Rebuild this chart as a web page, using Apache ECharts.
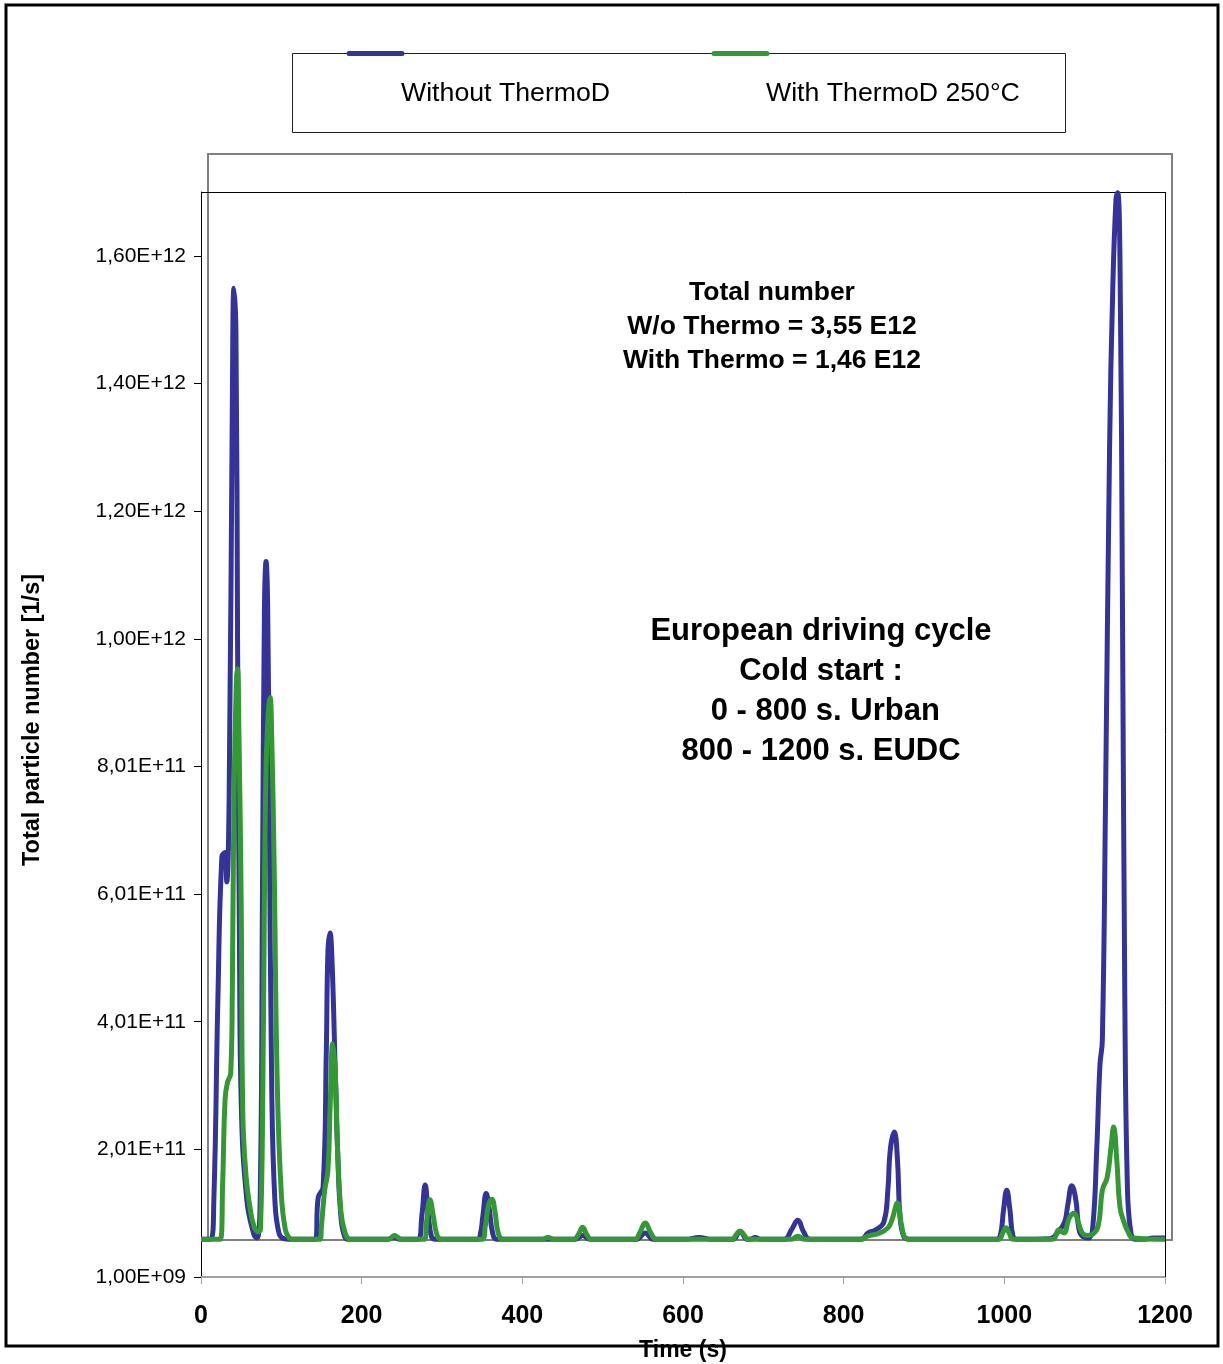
<!DOCTYPE html>
<html>
<head>
<meta charset="utf-8">
<script src="https://cdn.jsdelivr.net/npm/echarts@6/dist/echarts.min.js"></script>
<style>
html,body{margin:0;padding:0;background:#fff;}
#chart{width:1223px;height:1364px;}
</style>
</head>
<body>
<div id="chart"></div>
<script>
// ---- Data (time in s, particle number in 1/s) ----
const seriesNames = ['Without ThermoD', 'With ThermoD 250°C'];

const withoutTime = [0, 12, 16, 21, 26, 30, 32, 35, 39, 41, 43.5, 45.5, 48, 50, 57, 66, 70,
  74, 76.5, 79, 81, 83, 85, 88, 92, 97, 103, 110, 142, 146, 152, 156, 158, 160.6, 163, 167, 170.5, 174, 179, 185,
  232, 240, 248, 270, 275, 279, 283, 287, 292, 344, 348, 351, 355, 359, 363, 368,
  466, 475, 484, 542, 553, 563, 604, 620, 636, 662, 671, 680, 684, 690, 696,
  726, 735, 743, 750, 758, 822, 830, 840, 850, 855, 858, 863, 867, 870, 875, 882,
  990, 995, 999, 1003, 1007, 1011, 1017, 1057, 1067, 1075, 1079, 1084, 1089, 1093, 1098, 1105, 1110,
  1115, 1119, 1122, 1126, 1131, 1135, 1139, 1141, 1144, 1147, 1150, 1153, 1157, 1163, 1175, 1185, 1200];
const withoutValue = [6.0e10, 6.0e10, 1.22e11, 4.35e11, 6.60e11, 6.66e11, 6.20e11, 7.50e11, 1.37e12, 1.55e12, 1.48e12, 1.00e12, 5.00e11, 2.78e11, 1.22e11, 6.7e10, 6.2e10,
  1.50e11, 6.00e11, 1.05e12, 1.122e12, 1.05e12, 7.50e11, 3.00e11, 1.20e11, 7.0e10, 6.1e10, 6.0e10, 6.0e10, 1.26e11, 1.42e11, 3.56e11, 5.10e11, 5.40e11, 5.00e11, 3.30e11, 1.84e11, 9.8e10, 6.4e10, 6.0e10,
  6.0e10, 6.3e10, 6.0e10, 6.0e10, 9.8e10, 1.45e11, 9.8e10, 6.4e10, 6.0e10, 6.0e10, 7.0e10, 9.8e10, 1.32e11, 1.06e11, 7.0e10, 6.0e10,
  6.0e10, 6.6e10, 6.0e10, 6.0e10, 7.0e10, 6.0e10, 6.0e10, 6.3e10, 6.0e10, 6.0e10, 7.2e10, 6.0e10, 6.0e10, 6.3e10, 6.0e10,
  6.0e10, 7.5e10, 9.0e10, 7.2e10, 6.0e10, 6.0e10, 7.0e10, 7.5e10, 8.7e10, 1.37e11, 2.00e11, 2.28e11, 1.84e11, 9.8e10, 6.4e10, 6.0e10,
  6.0e10, 6.6e10, 1.06e11, 1.37e11, 1.06e11, 6.4e10, 6.0e10, 6.1e10, 7.2e10, 8.7e10, 1.14e11, 1.44e11, 1.22e11, 7.5e10, 6.4e10, 6.2e10, 7.8e10,
  2.00e11, 3.33e11, 3.72e11, 7.50e11, 1.30e12, 1.55e12, 1.69e12, 1.70e12, 1.59e12, 1.06e12, 4.35e11, 1.53e11, 7.5e10, 6.0e10, 6.0e10, 6.2e10, 6.2e10];

const withTime = [0, 24, 27, 30, 33, 37, 39, 41, 44, 45.5, 47, 50, 52, 56, 61, 66, 71, 74,
  77, 79, 81, 84, 86, 88, 91, 95, 100, 105, 110, 115, 148, 150, 154, 158, 161, 164, 167, 170, 174, 179, 186,
  233, 238, 241, 244, 250, 278, 281, 285, 289, 294, 300, 350, 354, 358, 362, 366, 370, 376,
  424, 432, 440, 464, 470, 475, 480, 486, 540, 546, 553, 560, 567, 661, 666, 671, 676, 681, 735, 743, 751,
  820, 830, 845, 855, 860, 867, 872, 877, 885, 993, 998, 1002, 1006, 1011,
  1060, 1068, 1074, 1081, 1087, 1092, 1097, 1103, 1110, 1117, 1122, 1128, 1133, 1136, 1140, 1144, 1149, 1154, 1160, 1200];
const withValue = [6.0e10, 6.0e10, 1.50e11, 2.80e11, 3.06e11, 3.20e11, 4.50e11, 7.50e11, 9.36e11, 9.54e11, 8.70e11, 5.90e11, 2.60e11, 1.60e11, 1.10e11, 8.0e10, 7.2e10, 7.5e10,
  3.00e11, 6.00e11, 8.00e11, 8.90e11, 9.09e11, 8.50e11, 6.50e11, 3.00e11, 1.30e11, 7.5e10, 6.2e10, 6.0e10, 6.0e10, 8.2e10, 1.37e11, 1.68e11, 2.78e11, 3.67e11, 3.25e11, 2.00e11, 1.06e11, 7.2e10, 6.0e10,
  6.0e10, 6.4e10, 6.6e10, 6.4e10, 6.0e10, 6.0e10, 9.0e10, 1.22e11, 9.8e10, 6.6e10, 6.0e10, 6.0e10, 8.2e10, 1.14e11, 1.23e11, 1.03e11, 7.0e10, 6.0e10,
  6.0e10, 6.3e10, 6.0e10, 6.0e10, 6.8e10, 7.9e10, 6.8e10, 6.0e10, 6.0e10, 7.0e10, 8.55e10, 7.0e10, 6.0e10, 6.0e10, 6.7e10, 7.3e10, 6.7e10, 6.0e10, 6.0e10, 6.5e10, 6.0e10,
  6.0e10, 6.5e10, 7.0e10, 7.8e10, 9.0e10, 1.17e11, 8.2e10, 6.2e10, 6.0e10, 6.0e10, 7.0e10, 7.8e10, 7.0e10, 6.0e10,
  6.0e10, 7.5e10, 7.0e10, 9.4e10, 1.01e11, 8.7e10, 7.0e10, 6.6e10, 6.8e10, 8.2e10, 1.37e11, 1.57e11, 2.07e11, 2.36e11, 1.84e11, 1.10e11, 8.7e10, 7.2e10, 6.2e10, 6.0e10];

const xTicks = [0, 200, 400, 600, 800, 1000, 1200];
const yTicks = [1.0e9, 2.01e11, 4.01e11, 6.01e11, 8.01e11, 1.001e12, 1.201e12, 1.401e12, 1.601e12];

const xTitle = 'Time (s)';
const yTitle = 'Total particle number [1/s]';
const annotation1 = ['Total number', 'W/o Thermo = 3,55 E12', 'With Thermo = 1,46 E12'];
const annotation2 = ['European driving cycle', 'Cold start :', ' 0 - 800 s. Urban', '800 - 1200 s. EUDC'];

const colors = ['#333399', '#339933'];

function pairs(t, v) { return t.map((x, i) => [x, v[i]]); }
function fmtExp(v) {
  const s = Number(v).toExponential(2);
  const parts = s.split('e');
  const sign = parts[1][0];
  const d = parts[1].slice(1).padStart(2, '0');
  return parts[0].replace('.', ',') + 'E' + sign + d;
}

const chart = echarts.init(document.getElementById('chart'), null, { renderer: 'canvas' });
const sans = "'Liberation Sans', Arial, sans-serif";

const option = {
  backgroundColor: '#ffffff',
  animation: false,
  grid: { left: 201, top: 192, width: 964, height: 1085, containLabel: false, outerBoundsMode: 'none' },
  xAxis: {
    type: 'value', min: xTicks[0], max: xTicks[xTicks.length - 1], interval: xTicks[1] - xTicks[0],
    axisLine: { lineStyle: { color: '#a0a0a0', width: 2 } },
    axisTick: { show: true, inside: false, length: 7, lineStyle: { color: '#a0a0a0', width: 1 } },
    splitLine: { show: false },
    axisLabel: { margin: 27, color: '#000', fontFamily: sans, fontWeight: 'bold', fontSize: 25,
      formatter: function (v) { return String(v); } },
    name: xTitle, nameLocation: 'middle', nameGap: 62,
    nameTextStyle: { color: '#000', fontFamily: sans, fontWeight: 'bold', fontSize: 23 }
  },
  yAxis: {
    type: 'value', min: yTicks[0], max: 1.701e12, interval: yTicks[1] - yTicks[0],
    axisLine: { show: true, lineStyle: { color: '#000', width: 1 } },
    axisTick: { show: true, inside: false, length: 7, lineStyle: { color: '#000', width: 1 } },
    splitLine: { show: false },
    axisLabel: { showMaxLabel: false, margin: 15, color: '#000', fontFamily: sans, fontSize: 21,
      formatter: function (v) { return fmtExp(v); } }
  },
  legend: { show: false, data: seriesNames },
  series: [
    { name: seriesNames[0], type: 'line', data: pairs(withoutTime, withoutValue), showSymbol: false,
      smooth: 0.45, lineStyle: { color: colors[0], width: 5 }, itemStyle: { color: colors[0] }, z: 3 },
    { name: seriesNames[1], type: 'line', data: pairs(withTime, withValue), showSymbol: false,
      smooth: 0.45, lineStyle: { color: colors[1], width: 5 }, itemStyle: { color: colors[1] }, z: 4 }
  ],
  graphic: [
    // outer border
    { type: 'rect', shape: { x: 6, y: 5, width: 1212, height: 1341 }, style: { fill: 'none', stroke: '#000', lineWidth: 3 }, z: 0 },
    // gray inner frame
    { type: 'rect', shape: { x: 208, y: 154, width: 964, height: 1086 }, style: { fill: 'none', stroke: '#808080', lineWidth: 2 }, z: 1 },
    // plot frame top and right
    { type: 'line', shape: { x1: 201, y1: 192.5, x2: 1165.5, y2: 192.5 }, style: { stroke: '#000', lineWidth: 1 }, z: 1 },
    { type: 'line', shape: { x1: 1165.5, y1: 192, x2: 1165.5, y2: 1277 }, style: { stroke: '#000', lineWidth: 1 }, z: 1 },
    // legend box
    { type: 'rect', shape: { x: 292.5, y: 53.5, width: 773, height: 79 }, style: { fill: '#fff', stroke: '#222', lineWidth: 1 }, z: 5 },
    { type: 'line', shape: { x1: 349, y1: 53.5, x2: 402, y2: 53.5 }, style: { stroke: colors[0], lineWidth: 5, lineCap: 'round' }, z: 6 },
    { type: 'line', shape: { x1: 714, y1: 53.5, x2: 767, y2: 53.5 }, style: { stroke: colors[1], lineWidth: 5, lineCap: 'round' }, z: 6 },
    { type: 'text', style: { x: 401, y: 94, text: seriesNames[0], fill: '#000', font: '26.7px ' + sans, textVerticalAlign: 'middle' }, z: 6 },
    { type: 'text', style: { x: 766, y: 94, text: seriesNames[1], fill: '#000', font: '26.7px ' + sans, textVerticalAlign: 'middle' }, z: 6 },
    // y axis title
    { type: 'text', rotation: Math.PI / 2, x: 33, y: 720, style: { x: 0, y: 0, text: yTitle, fill: '#000', font: 'bold 23.5px ' + sans, textAlign: 'center', textVerticalAlign: 'middle' }, z: 6 },
    // annotations
    { type: 'text', style: { x: 772, y: 276, text: annotation1.join('\n'), fill: '#000', font: 'bold 26.5px ' + sans, textAlign: 'center', lineHeight: 34 }, z: 6 },
    { type: 'text', style: { x: 821, y: 611, text: annotation2.join('\n'), fill: '#000', font: 'bold 31px ' + sans, textAlign: 'center', lineHeight: 40 }, z: 6 }
  ]
};
chart.setOption(option);
</script>
</body>
</html>
